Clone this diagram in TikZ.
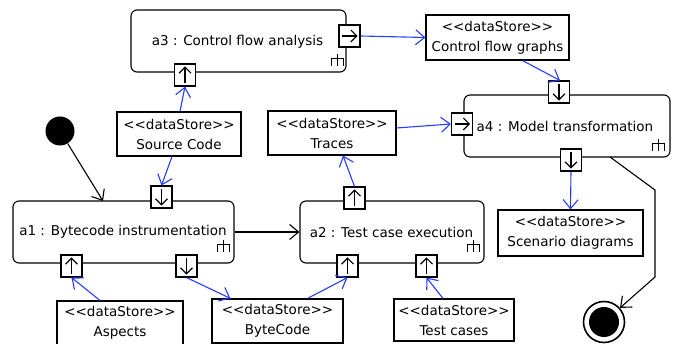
\documentclass[tikz,border=0pt]{standalone}
\usepackage{fontspec}
\setmainfont{DejaVu Sans}
\usetikzlibrary{arrows.meta,calc}
\definecolor{flowblue}{RGB}{40,60,255}
\tikzset{
  act/.style={draw, rounded corners=6pt, line width=1.1pt, inner sep=0pt},
  store/.style={draw, line width=1.1pt, align=center, inner sep=0pt, font=\fontsize{13.5}{20}\selectfont},
  pinbox/.style={draw, fill=white, line width=1.1pt, minimum width=21pt, minimum height=22pt, inner sep=0pt},
  flow/.style={flowblue, line width=1.1pt, -{Straight Barb[length=9pt,width=15pt,line width=1.1pt]}},
  ctrl/.style={black, line width=1.1pt, -{Straight Barb[length=9pt,width=15pt,line width=1.1pt]}},
  pinarr/.style={black, line width=1.1pt, -{Straight Barb[length=6pt,width=12pt,line width=1.1pt]}},
  lbl/.style={font=\fontsize{13.5}{16}\selectfont}
}
\newcommand{\forkmark}[1]{%
  \draw[line width=1pt] ($(#1)+(0,-6)$) -- ($(#1)+(0,6)$)
    ($(#1)+(-6,6)$) -- ($(#1)+(-6,-1)$) -- ($(#1)+(6,-1)$) -- ($(#1)+(6,6)$);}
\begin{document}
\begin{tikzpicture}[x=1pt,y=-1pt]
\useasboundingbox (0,0) rectangle (675,344);
\clip (0,0) rectangle (675,344);
\fill[white] (0,0) rectangle (675,344);

% activities
\node[act, minimum width=215pt, minimum height=62pt] (a3) at (238.5,41) {};
\node[lbl] (a3t) at (237.5,42) {a3 : Control flow analysis};
\node[act, minimum width=206pt, minimum height=62pt] (a4) at (567,126) {};
\node[lbl] (a4t) at (565,126) {a4 : Model transformation};
\node[act, minimum width=221pt, minimum height=62pt] (a1) at (123.5,232) {};
\node[lbl] (a1t) at (123,232) {a1 : Bytecode instrumentation};
\node[act, minimum width=184pt, minimum height=62pt] (a2) at (392,232) {};
\node[lbl] (a2t) at (391.5,232) {a2 : Test case execution};

\forkmark{337,60}
\forkmark{658,145}
\forkmark{223,246}
\forkmark{473,246}

% data stores
\node[store, minimum width=143pt, minimum height=45pt] (cfg) at (497.5,37.5) {<{}<dataStore>{}>\\Control flow graphs};
\node[store, minimum width=128pt, minimum height=44pt] (tr) at (332,133) {<{}<dataStore>{}>\\Traces};
\node[store, minimum width=124pt, minimum height=44pt] (sc) at (179,134) {<{}<dataStore>{}>\\Source Code};
\node[store, minimum width=145pt, minimum height=46pt] (sd) at (570.5,233) {<{}<dataStore>{}>\\Scenario diagrams};
\node[store, minimum width=126pt, minimum height=44pt] (as) at (120,323) {<{}<dataStore>{}>\\Aspects};
\node[store, minimum width=131pt, minimum height=44pt] (bc) at (277.5,321) {<{}<dataStore>{}>\\ByteCode};
\node[store, minimum width=120pt, minimum height=42pt] (tc) at (454,320) {<{}<dataStore>{}>\\Test cases};

% pins
\node[pinbox] (p3in) at (185,75) {};
\draw[pinarr] ($(p3in.south)+(0,-4)$) -- ($(p3in.north)+(0,3)$);
\node[pinbox] (p3out) at (349.5,36) {};
\draw[pinarr] ($(p3out.west)+(4,0)$) -- ($(p3out.east)+(-3,0)$);
\node[pinbox] (p4top) at (559,92) {};
\draw[pinarr] ($(p4top.north)+(0,4)$) -- ($(p4top.south)+(0,-3)$);
\node[pinbox] (p4left) at (462,124) {};
\draw[pinarr] ($(p4left.west)+(4,0)$) -- ($(p4left.east)+(-3,0)$);
\node[pinbox] (p4bot) at (571,160) {};
\draw[pinarr] ($(p4bot.north)+(0,4)$) -- ($(p4bot.south)+(0,-3)$);
\node[pinbox] (p1top) at (161.5,197) {};
\draw[pinarr] ($(p1top.north)+(0,4)$) -- ($(p1top.south)+(0,-3)$);
\node[pinbox] (p1bl) at (71.5,266) {};
\draw[pinarr] ($(p1bl.south)+(0,-4)$) -- ($(p1bl.north)+(0,3)$);
\node[pinbox] (p1br) at (186.5,266) {};
\draw[pinarr] ($(p1br.north)+(0,4)$) -- ($(p1br.south)+(0,-3)$);
\node[pinbox] (p2top) at (354.5,198) {};
\draw[pinarr] ($(p2top.south)+(0,-4)$) -- ($(p2top.north)+(0,3)$);
\node[pinbox] (p2bl) at (347.5,266) {};
\draw[pinarr] ($(p2bl.south)+(0,-4)$) -- ($(p2bl.north)+(0,3)$);
\node[pinbox] (p2br) at (426.5,266) {};
\draw[pinarr] ($(p2br.south)+(0,-4)$) -- ($(p2br.north)+(0,3)$);

% start / final
\node[circle, fill=black, minimum size=29pt, inner sep=0pt] (start) at (60,131) {};
\node[circle, draw, line width=1.6pt, minimum size=41pt, inner sep=0pt] (final) at (604,322) {};
\node[circle, fill=black, minimum size=30pt, inner sep=0pt] (finalin) at (604,322) {};

% coordinates for connector ends
\coordinate (a1in) at (103,201);
\coordinate (a4out) at (610,157);
\coordinate (b1) at (655,190);
\coordinate (b2) at (655,277);

% control flow
\draw[ctrl] (start) -- (a1in);
\draw[ctrl] (a1.east) -- (a2.west);
\draw[ctrl] (a4out) -- (b1) -- (b2) -- (final);

% object flows
\draw[flow] (p3out.east) -- (cfg.west);
\draw[flow] ($(cfg.south)+(25,0)$) -- ($(p4top.north)+(1,0)$);
\draw[flow] ($(tr.east)+(0,-5)$) -- (p4left.west);
\draw[flow] (p4bot.south) -- (sd.north);
\draw[flow] ($(sc.north)+(1,0)$) -- ($(p3in.south)+(0,0)$);
\draw[flow] ($(sc.south)+(-7,0)$) -- ($(p1top.north)+(0,0)$);
\draw[flow] ($(as.north)+(-20,0)$) -- (p1bl.south);
\draw[flow] (p1br.south) -- ($(bc.north)+(-47,0)$);
\draw[flow] ($(bc.north)+(30,0)$) -- (p2bl.south);
\draw[flow] ($(tc.north)+(-11,0)$) -- (p2br.south);
\draw[flow] (p2top.north) -- ($(tr.south)+(11,0)$);
\end{tikzpicture}
\end{document}
